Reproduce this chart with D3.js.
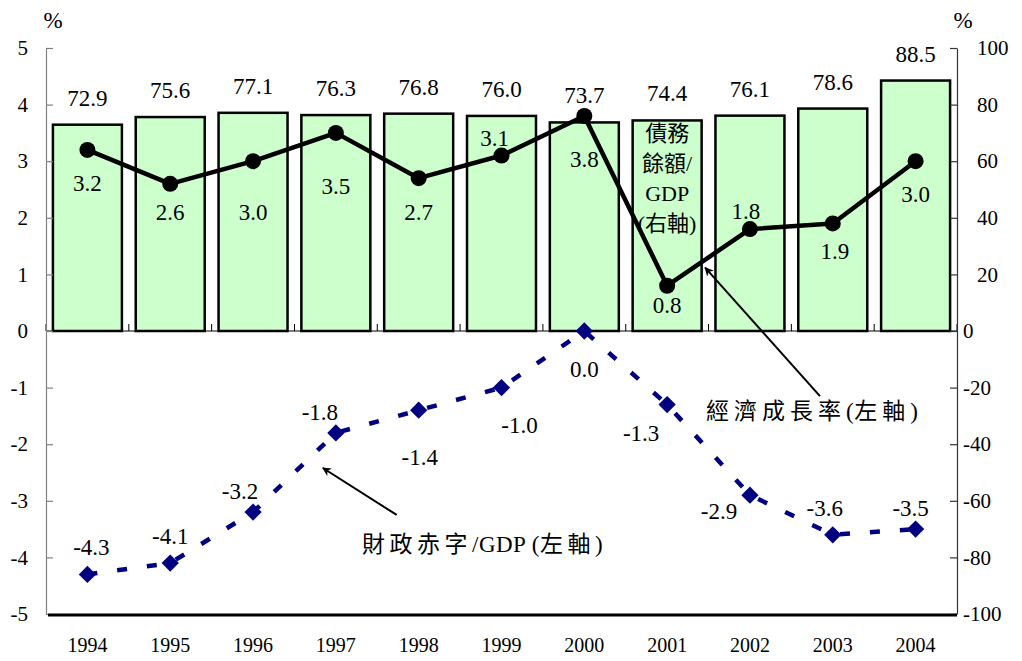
<!DOCTYPE html>
<html>
<head>
<meta charset="utf-8">
<script src="https://cdn.jsdelivr.net/npm/d3@7"></script>
<style>
  html, body { margin: 0; padding: 0; background: #fff; }
  svg { display: block; }
  text { font-family: "Liberation Serif", "Noto Sans CJK TC", serif; fill: #000; }
</style>
</head>
<body>
<svg id="chart" width="1022" height="661"></svg>
<script>
// ---- data ----
const years = ["1994","1995","1996","1997","1998","1999","2000","2001","2002","2003","2004"];
const debtRatio = [72.9, 75.6, 77.1, 76.3, 76.8, 76.0, 73.7, 74.4, 76.1, 78.6, 88.5];
const growthRate = [3.2, 2.6, 3.0, 3.5, 2.7, 3.1, 3.8, 0.8, 1.8, 1.9, 3.0];
const deficitRatio = [-4.3, -4.1, -3.2, -1.8, -1.4, -1.0, 0.0, -1.3, -2.9, -3.6, -3.5];
const leftTicks = [5, 4, 3, 2, 1, 0, -1, -2, -3, -4, -5];
const rightTicks = [100, 80, 60, 40, 20, 0, -20, -40, -60, -80, -100];
const debtNote = ["債務", "餘額/", "GDP", "(右軸)"];
const growthNote = "經濟成長率(左軸)";
const deficitNote = "財政赤字/GDP (左軸)";

// label placement (layout, px offsets from the point)
const growthLabelShift = [[0,41],[0,36],[0,59],[0,61],[0,42],[-7,-10],[0,51],[0,27],[-4,-10],[2,36],[0,41]];
const deficitLabelShift = [[4,-19],[0,-19],[-13,-13],[-16,-13],[1,55],[18,45],[0,46],[-26,36],[-31,24],[-8,-19],[-5,-13]];

const svg = d3.select("#chart");
const L = 46, R = 957, T = 48, B = 614;

const x = d3.scaleBand().domain(years).range([L, R]).paddingInner(0.167).paddingOuter(0.0835);
const xc = d => x(d) + x.bandwidth() / 2;
const yL = d3.scaleLinear().domain([-5, 5]).range([B, T]);
const yR = d3.scaleLinear().domain([-100, 100]).range([B, T]);

// defs: arrow marker
svg.append("defs").append("marker")
  .attr("id", "arrow").attr("viewBox", "0 0 10 10").attr("refX", 9).attr("refY", 5)
  .attr("markerWidth", 9).attr("markerHeight", 9).attr("orient", "auto-start-reverse")
  .attr("markerUnits", "userSpaceOnUse")
  .append("path").attr("d", "M0,0 L10,5 L0,10 L3,5 Z").attr("fill", "#000");

// bars
svg.append("g").selectAll("rect").data(years).join("rect")
  .attr("x", d => x(d)).attr("width", x.bandwidth())
  .attr("y", (d, i) => yR(debtRatio[i]))
  .attr("height", (d, i) => yR(0) - yR(debtRatio[i]))
  .attr("fill", "#CCFFCC").attr("stroke", "#000").attr("stroke-width", 2.5);

// zero category axis
const zg = svg.append("g");
zg.append("line").attr("x1", L).attr("x2", R).attr("y1", yR(0)).attr("y2", yR(0))
  .attr("stroke", "#000").attr("stroke-width", 1.2);
zg.selectAll("line.t").data(d3.range(years.length + 1)).join("line").attr("class", "t")
  .attr("x1", i => L + i * x.step()).attr("x2", i => L + i * x.step())
  .attr("y1", yR(0)).attr("y2", yR(0) - 7).attr("stroke", "#000").attr("stroke-width", 1);

// left axis
const gl = svg.append("g").attr("transform", `translate(${L},0)`)
  .call(d3.axisLeft(yL).tickValues(leftTicks).tickFormat(d => String(d))
    .tickSizeInner(-7).tickSizeOuter(0).tickPadding(18));
gl.select(".domain").attr("stroke", "#808080").attr("stroke-width", 1.2);
gl.selectAll(".tick line").attr("stroke", "#808080").attr("stroke-width", 1.2);
gl.selectAll(".tick text").attr("font-size", 21);

// right axis
const gr = svg.append("g").attr("transform", `translate(${R},0)`)
  .call(d3.axisRight(yR).tickValues(rightTicks).tickFormat(d => String(d))
    .tickSizeInner(-7).tickSizeOuter(0).tickPadding(7));
gr.select(".domain").attr("stroke", "#333").attr("stroke-width", 1.2);
gr.selectAll(".tick line").attr("stroke", "#333").attr("stroke-width", 1.2);
gr.selectAll(".tick text").attr("font-size", 21).attr("x", d => d > 0 ? 20 : 6);

// bottom axis
const gb = svg.append("g").attr("transform", `translate(0,${B + 1})`)
  .call(d3.axisBottom(x).tickSize(0).tickPadding(23));
gb.select(".domain").attr("stroke", "#000").attr("stroke-width", 3).attr("d", `M${L + 2},0H${R}`);
gb.selectAll(".tick text").attr("font-size", 20);

// unit labels
svg.append("text").attr("x", 53).attr("y", 28).attr("text-anchor", "middle").attr("font-size", 23).text("%");
svg.append("text").attr("x", 963).attr("y", 28).attr("text-anchor", "middle").attr("font-size", 23).text("%");

// bar value labels
svg.append("g").selectAll("text").data(years).join("text")
  .attr("x", d => xc(d)).attr("y", (d, i) => yR(debtRatio[i]) - 19)
  .attr("text-anchor", "middle").attr("font-size", 23)
  .text((d, i) => debtRatio[i].toFixed(1));

// growth line
const lineG = d3.line().x((d, i) => xc(years[i])).y(d => yL(d));
svg.append("path").datum(growthRate).attr("d", lineG)
  .attr("fill", "none").attr("stroke", "#000").attr("stroke-width", 4.5).attr("stroke-linejoin", "round");
svg.append("g").selectAll("circle").data(growthRate).join("circle")
  .attr("cx", (d, i) => xc(years[i])).attr("cy", d => yL(d)).attr("r", 8).attr("fill", "#000");
svg.append("g").selectAll("text").data(growthRate).join("text")
  .attr("x", (d, i) => xc(years[i]) + growthLabelShift[i][0])
  .attr("y", (d, i) => yL(d) + growthLabelShift[i][1])
  .attr("text-anchor", "middle").attr("font-size", 23).text(d => d.toFixed(1));

// deficit line
svg.append("path").datum(deficitRatio).attr("d", lineG)
  .attr("fill", "none").attr("stroke", "#000080").attr("stroke-width", 4.5)
  .attr("stroke-dasharray", "10,20");
const sym = d3.symbol().type(d3.symbolDiamond2).size(190);
svg.append("g").selectAll("path").data(deficitRatio).join("path")
  .attr("transform", (d, i) => `translate(${xc(years[i])},${yL(d)})`)
  .attr("d", sym).attr("fill", "#000080");
svg.append("g").selectAll("text").data(deficitRatio).join("text")
  .attr("x", (d, i) => xc(years[i]) + deficitLabelShift[i][0])
  .attr("y", (d, i) => yL(d) + deficitLabelShift[i][1])
  .attr("text-anchor", "middle").attr("font-size", 23).text(d => d.toFixed(1));

// debt note inside 2001 bar
svg.append("g").selectAll("text").data(debtNote).join("text")
  .attr("x", xc("2001")).attr("y", (d, i) => 141 + i * 30)
  .attr("text-anchor", "middle").attr("font-size", 22).text(d => d);

// helper: spaced CJK runs, compact Latin runs
function noteText(sel, str, cjkSpacing) {
  const runs = str.match(/[\u3400-\u9fff]+|[^\u3400-\u9fff]+/g);
  sel.selectAll("tspan").data(runs).join("tspan")
    .attr("letter-spacing", r => /[\u3400-\u9fff]/.test(r) ? cjkSpacing : 0.5)
    .text(r => r);
}

// growth annotation
svg.append("line")
  .attr("x1", xc("2002") + 70).attr("y1", yL(-1.15))
  .attr("x2", xc("2001") + 38).attr("y2", yL(1.12))
  .attr("stroke", "#000").attr("stroke-width", 2).attr("marker-end", "url(#arrow)");
svg.append("text").attr("x", 706).attr("y", 419).attr("font-size", 23).call(noteText, growthNote, 5);

// deficit annotation
svg.append("line")
  .attr("x1", xc("1998") - 22).attr("y1", yL(-3.25))
  .attr("x2", xc("1997") - 13).attr("y2", yL(-2.42))
  .attr("stroke", "#000").attr("stroke-width", 2).attr("marker-end", "url(#arrow)");
svg.append("text").attr("x", 362).attr("y", 552).attr("font-size", 23).call(noteText, deficitNote, 4.5);
</script>
</body>
</html>
